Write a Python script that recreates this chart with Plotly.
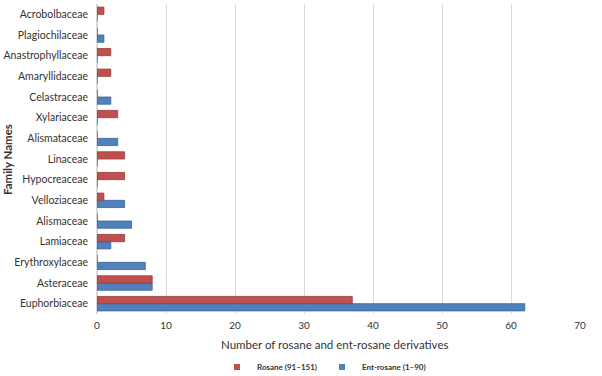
import plotly.graph_objects as go

families = ["Acrobolbaceae", "Plagiochilaceae", "Anastrophyllaceae", "Amaryllidaceae",
            "Celastraceae", "Xylariaceae", "Alismataceae", "Linaceae", "Hypocreaceae",
            "Velloziaceae", "Alismaceae", "Lamiaceae", "Erythroxylaceae", "Asteraceae",
            "Euphorbiaceae"]
rosane = [1, 0, 2, 2, 0, 3, 0, 4, 4, 1, 0, 4, 0, 8, 37]
ent_rosane = [0, 1, 0, 0, 2, 0, 3, 0, 0, 4, 5, 2, 7, 8, 62]
x_ticks = [0, 10, 20, 30, 40, 50, 60, 70]

RED = "#C0504D"
BLUE = "#4F81BD"

cats = families[::-1]
ros = rosane[::-1]
ent = ent_rosane[::-1]

fig = go.Figure()
fig.add_trace(go.Bar(y=cats, x=ent, orientation="h", showlegend=False,
                     marker=dict(color=BLUE, line=dict(color="#3A6391", width=0.8))))
fig.add_trace(go.Bar(y=cats, x=ros, orientation="h", showlegend=False,
                     marker=dict(color=RED, line=dict(color="#943B39", width=0.8))))
# legend entries (small square swatches)
fig.add_trace(go.Scatter(x=[None], y=[None], mode="markers", name="<b>Rosane (91\u2013151)</b>",
                         marker=dict(symbol="square", size=6, color=RED)))
fig.add_trace(go.Scatter(x=[None], y=[None], mode="markers", name="<b>Ent-rosane (1\u201390)</b>",
                         marker=dict(symbol="square", size=6, color=BLUE)))

W, H = 602, 376
L, R, T, B = 97, 22, 4, 62
pw, ph = W - L - R, H - T - B

fig.update_layout(
    width=W, height=H,
    margin=dict(l=L, r=R, t=T, b=B, autoexpand=False),
    barmode="group", bargap=0.3, bargroupgap=0.0,
    plot_bgcolor="white", paper_bgcolor="white",
    font=dict(family="Lato, Open Sans, sans-serif", size=10.5, color="#333333"),
    xaxis=dict(range=[0, 70], tickvals=x_ticks, showgrid=True, gridcolor="#D9D9D9", gridwidth=1,
               zeroline=True, zerolinecolor="#D9D9D9", ticks="", ticklen=0,
               tickfont=dict(size=10), automargin=False, ticklabelstandoff=4),
    yaxis=dict(showgrid=False, ticks="", tickfont=dict(size=10.5), ticklabelstandoff=8,
               automargin=False),
    legend=dict(orientation="h", x=(324 - L) / pw, xanchor="center",
                y=-(367 - (T + ph)) / ph, yanchor="middle",
                font=dict(size=8), itemwidth=30, traceorder="normal",
                bgcolor="rgba(0,0,0,0)"),
    annotations=[
        dict(text="Number of rosane and ent-rosane derivatives", xref="paper", yref="paper",
             x=(334 - L) / pw, y=-(344 - (T + ph)) / ph, xanchor="center", yanchor="middle",
             showarrow=False, font=dict(size=11.5)),
        dict(text="<b>Family Names</b>", xref="paper", yref="paper",
             x=-(L - 8) / pw, y=(T + ph - 160) / ph, xanchor="center", yanchor="middle",
             textangle=-90, showarrow=False, font=dict(size=11.5)),
    ],
)

fig.write_html("out.html")
